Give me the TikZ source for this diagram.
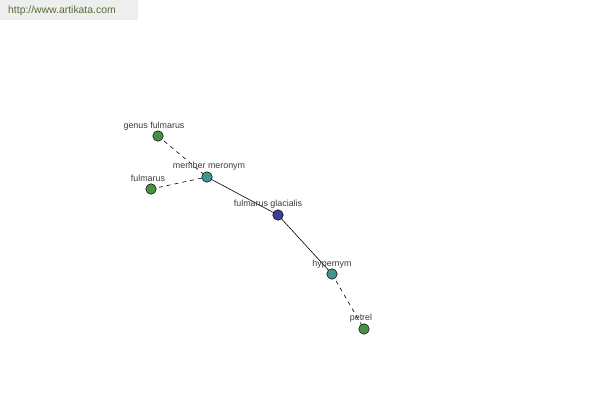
\documentclass[tikz,border=0pt]{standalone}
\usepackage{fontspec}
\setmainfont{Liberation Sans}
\definecolor{ngreen}{RGB}{72,145,68}
\definecolor{nteal}{RGB}{64,150,145}
\definecolor{nblue}{RGB}{60,62,150}
\definecolor{lbl}{RGB}{60,60,60}
\definecolor{hdrbg}{RGB}{238,238,238}
\definecolor{hdrtx}{RGB}{85,110,50}
\begin{document}
\begin{tikzpicture}[x=1pt,y=-1pt,
  vtx/.style={circle,draw=black,line width=0.5pt,minimum size=10.5pt,inner sep=0pt},
  lab/.style={font=\fontsize{8.9}{9}\selectfont,text=lbl,inner sep=0pt},
  dashedge/.style={draw=black,line width=0.6pt,dash pattern=on 4pt off 4pt},
  solidedge/.style={draw=black,line width=0.6pt}]
\useasboundingbox[fill=white] (0,0) rectangle (600,400);
\fill[hdrbg] (0,0) rectangle (138,20);
\node[font=\fontsize{10.4}{12}\selectfont,text=hdrtx,anchor=west,inner sep=0pt] (hdr) at (8,11) {http://www.artikata.com};
% vertices
\coordinate (pgf) at (158,136);
\coordinate (pf) at (151,189);
\coordinate (pmm) at (207,177);
\coordinate (pfg) at (278,215);
\coordinate (ph) at (332,274);
\coordinate (pp) at (364,329);
\draw[dashedge] (pgf) -- (pmm);
\draw[dashedge] (pf) -- (pmm);
\draw[solidedge] (pmm) -- (pfg);
\draw[solidedge] (pfg) -- (ph);
\draw[dashedge] (ph) -- (pp);
\node[vtx,fill=ngreen] (gf) at (pgf) {};
\node[vtx,fill=ngreen] (f) at (pf) {};
\node[vtx,fill=nteal] (mm) at (pmm) {};
\node[vtx,fill=nblue] (fg) at (pfg) {};
\node[vtx,fill=nteal] (h) at (ph) {};
\node[vtx,fill=ngreen] (p) at (pp) {};
% labels
\node[lab] (lgf) at (154,126) {genus fulmarus};
\node[lab] (lf) at (148,178) {fulmarus};
\node[lab] (lmm) at (209,166) {member meronym};
\node[lab] (lfg) at (268,204) {fulmarus glacialis};
\node[lab] (lh) at (332,264) {hypernym};
\node[lab] (lp) at (361,318) {petrel};
\end{tikzpicture}
\end{document}
